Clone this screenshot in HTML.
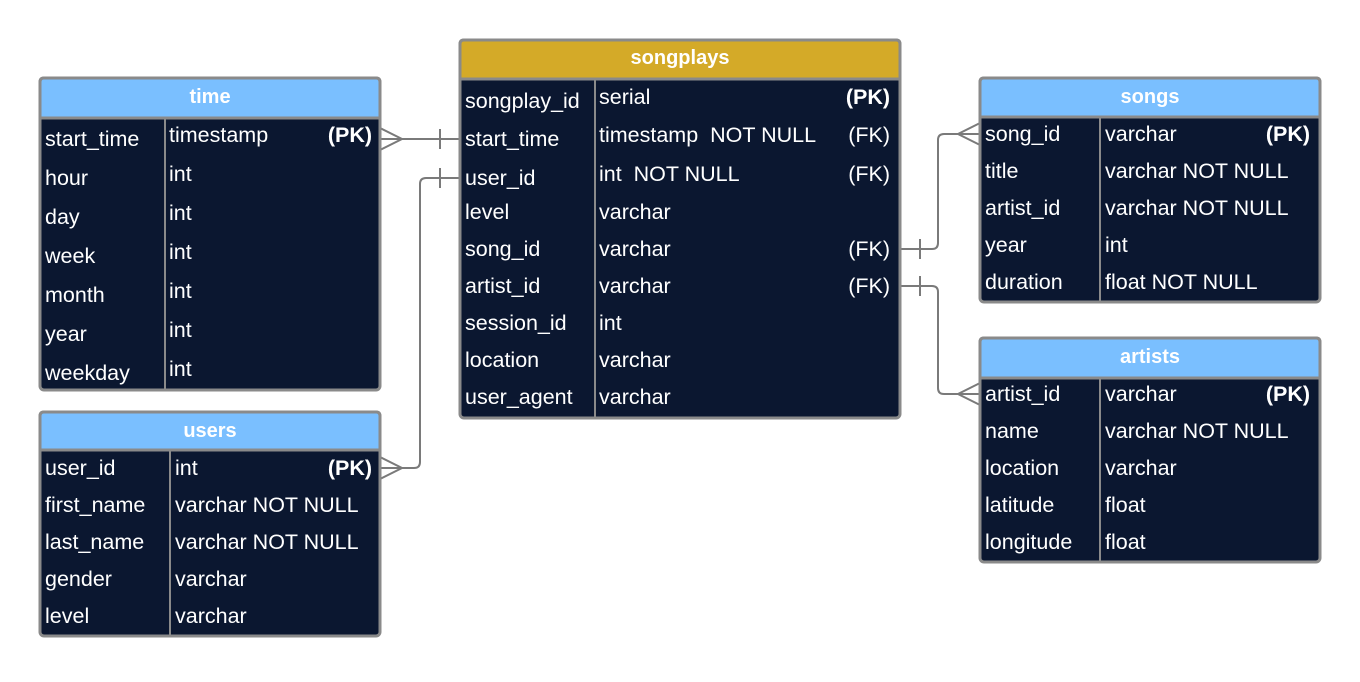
<!DOCTYPE html>
<html><head><meta charset="utf-8"><style>
body{margin:0;background:#fff;}
svg text{font-family:"Liberation Sans",sans-serif;font-size:21.5px;fill:#fff;}
.h{font-weight:bold;text-anchor:middle;font-size:20px;}
.b{font-weight:bold;}
</style></head><body>
<svg width="1360" height="677" xmlns="http://www.w3.org/2000/svg">
<g stroke="#7a7a7a" stroke-width="2" fill="none">
<path d="M380 139 H460 M440 129 V149 M380 128 L402 139 L380 150"/>
<path d="M460 178 H426 Q420 178 420 184 V462 Q420 468 414 468 H380 M440 168 V188 M380 457 L402 468 L380 479"/>
<path d="M900 249 H932 Q938 249 938 243 V140 Q938 134 944 134 H980 M920 239 V259 M980 123 L958 134 L980 145"/>
<path d="M900 286 H932 Q938 286 938 292 V388 Q938 394 944 394 H980 M920 276 V296 M980 383 L958 394 L980 405"/>
</g>
<!-- time -->
<rect x="40" y="78" width="340" height="312" rx="4" fill="#0b1730" stroke="#8a8a8a" stroke-width="3"/>
<path d="M40 118 V82 Q40 78 44 78 H376 Q380 78 380 82 V118 Z" fill="#7abfff" stroke="#8a8a8a" stroke-width="3"/>
<line x1="165" y1="118" x2="165" y2="390" stroke="#8a8a8a" stroke-width="2"/>
<text class="h" x="210" y="103">time</text>
<text x="45" y="146">start_time</text><text x="169" y="142">timestamp</text><text class="b" x="372" y="142" text-anchor="end">(PK)</text>
<text x="45" y="185">hour</text><text x="169" y="181">int</text>
<text x="45" y="224">day</text><text x="169" y="220">int</text>
<text x="45" y="263">week</text><text x="169" y="259">int</text>
<text x="45" y="302">month</text><text x="169" y="298">int</text>
<text x="45" y="341">year</text><text x="169" y="337">int</text>
<text x="45" y="380">weekday</text><text x="169" y="376">int</text>
<!-- users -->
<rect x="40" y="412" width="340" height="224" rx="4" fill="#0b1730" stroke="#8a8a8a" stroke-width="3"/>
<path d="M40 450 V416 Q40 412 44 412 H376 Q380 412 380 416 V450 Z" fill="#7abfff" stroke="#8a8a8a" stroke-width="3"/>
<line x1="170" y1="450" x2="170" y2="636" stroke="#8a8a8a" stroke-width="2"/>
<text class="h" x="210" y="437">users</text>
<text x="45" y="475">user_id</text><text x="175" y="475">int</text><text class="b" x="372" y="475" text-anchor="end">(PK)</text>
<text x="45" y="512">first_name</text><text x="175" y="512">varchar NOT NULL</text>
<text x="45" y="549">last_name</text><text x="175" y="549">varchar NOT NULL</text>
<text x="45" y="586">gender</text><text x="175" y="586">varchar</text>
<text x="45" y="623">level</text><text x="175" y="623">varchar</text>
<!-- songplays -->
<rect x="460" y="40" width="440" height="378" rx="4" fill="#0b1730" stroke="#8a8a8a" stroke-width="3"/>
<path d="M460 79 V44 Q460 40 464 40 H896 Q900 40 900 44 V79 Z" fill="#d4aa28" stroke="#8a8a8a" stroke-width="3"/>
<line x1="595" y1="79" x2="595" y2="418" stroke="#8a8a8a" stroke-width="2"/>
<text class="h" x="680" y="64">songplays</text>
<text x="465" y="108">songplay_id</text><text x="599" y="104">serial</text><text class="b" x="890" y="104" text-anchor="end">(PK)</text>
<text x="465" y="146">start_time</text><text x="599" y="142">timestamp&#160; NOT NULL</text><text x="890" y="142" text-anchor="end">(FK)</text>
<text x="465" y="185">user_id</text><text x="599" y="181">int&#160; NOT NULL</text><text x="890" y="181" text-anchor="end">(FK)</text>
<text x="465" y="219">level</text><text x="599" y="219">varchar</text>
<text x="465" y="256">song_id</text><text x="599" y="256">varchar</text><text x="890" y="256" text-anchor="end">(FK)</text>
<text x="465" y="293">artist_id</text><text x="599" y="293">varchar</text><text x="890" y="293" text-anchor="end">(FK)</text>
<text x="465" y="330">session_id</text><text x="599" y="330">int</text>
<text x="465" y="367">location</text><text x="599" y="367">varchar</text>
<text x="465" y="404">user_agent</text><text x="599" y="404">varchar</text>
<!-- songs -->
<rect x="980" y="78" width="340" height="224" rx="4" fill="#0b1730" stroke="#8a8a8a" stroke-width="3"/>
<path d="M980 117 V82 Q980 78 984 78 H1316 Q1320 78 1320 82 V117 Z" fill="#7abfff" stroke="#8a8a8a" stroke-width="3"/>
<line x1="1100" y1="117" x2="1100" y2="302" stroke="#8a8a8a" stroke-width="2"/>
<text class="h" x="1150" y="103">songs</text>
<text x="985" y="141">song_id</text><text x="1105" y="141">varchar</text><text class="b" x="1310" y="141" text-anchor="end">(PK)</text>
<text x="985" y="178">title</text><text x="1105" y="178">varchar NOT NULL</text>
<text x="985" y="215">artist_id</text><text x="1105" y="215">varchar NOT NULL</text>
<text x="985" y="252">year</text><text x="1105" y="252">int</text>
<text x="985" y="289">duration</text><text x="1105" y="289">float NOT NULL</text>
<!-- artists -->
<rect x="980" y="338" width="340" height="224" rx="4" fill="#0b1730" stroke="#8a8a8a" stroke-width="3"/>
<path d="M980 378 V342 Q980 338 984 338 H1316 Q1320 338 1320 342 V378 Z" fill="#7abfff" stroke="#8a8a8a" stroke-width="3"/>
<line x1="1100" y1="378" x2="1100" y2="562" stroke="#8a8a8a" stroke-width="2"/>
<text class="h" x="1150" y="363">artists</text>
<text x="985" y="401">artist_id</text><text x="1105" y="401">varchar</text><text class="b" x="1310" y="401" text-anchor="end">(PK)</text>
<text x="985" y="438">name</text><text x="1105" y="438">varchar NOT NULL</text>
<text x="985" y="475">location</text><text x="1105" y="475">varchar</text>
<text x="985" y="512">latitude</text><text x="1105" y="512">float</text>
<text x="985" y="549">longitude</text><text x="1105" y="549">float</text>
</svg>
</body></html>
